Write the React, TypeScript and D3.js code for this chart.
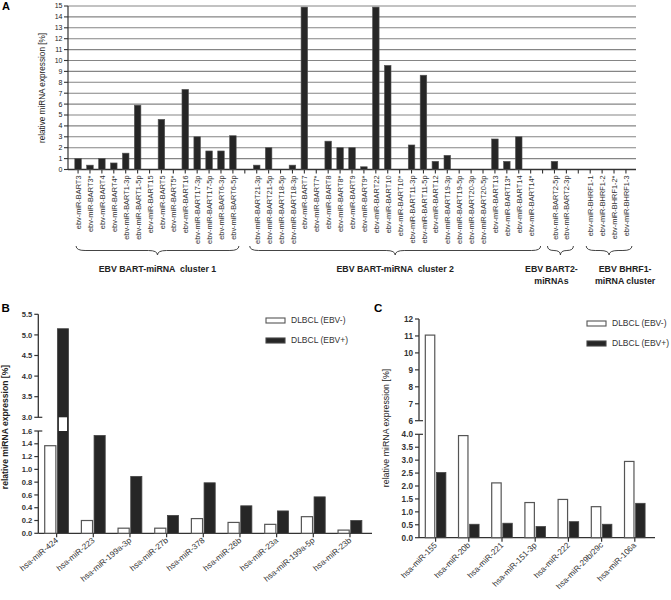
import React, { useRef, useEffect } from "react";
import * as d3 from "d3";

// Panel A: EBV miRNA clusters
const cluster1 = [
  "ebv-miR-BART3", "ebv-miR-BART3*", "ebv-miR-BART4", "ebv-miR-BART4*", "ebv-miR-BART1-3p",
  "ebv-miR-BART1-5p", "ebv-miR-BART15", "ebv-miR-BART5", "ebv-miR-BART5*", "ebv-miR-BART16",
  "ebv-miR-BART17-3p", "ebv-miR-BART17-5p", "ebv-miR-BART6-3p", "ebv-miR-BART6-5p"
];
const cluster1Values = [1.0, 0.4, 1.0, 0.6, 1.5, 5.9, 0, 4.6, 0, 7.35, 3.0, 1.7, 1.7, 3.1];

const cluster2 = [
  "ebv-miR-BART21-3p", "ebv-miR-BART21-5p", "ebv-miR-BART18-5p", "ebv-miR-BART18-3p", "ebv-miR-BART7",
  "ebv-miR-BART7*", "ebv-miR-BART8", "ebv-miR-BART8*", "ebv-miR-BART9", "ebv-miR-BART9*",
  "ebv-miR-BART22", "ebv-miR-BART10", "ebv-miR-BART10*", "ebv-miR-BART11-3p", "ebv-miR-BART11-5p",
  "ebv-miR-BART12", "ebv-miR-BART19-3p", "ebv-miR-BART19-5p", "ebv-miR-BART20-3p", "ebv-miR-BART20-5p",
  "ebv-miR-BART13", "ebv-miR-BART13*", "ebv-miR-BART14", "ebv-miR-BART14*"
];
const cluster2Values = [
  0.4, 2.0, 0, 0.4, 14.9, 0, 2.6, 2.0, 2.0, 0.25,
  14.9, 9.55, 0, 2.25, 8.65, 0.75, 1.3, 0, 0, 0,
  2.8, 0.75, 3.0, 0
];

const bart2 = ["ebv-miR-BART2-5p", "ebv-miR-BART2-3p"];
const bart2Values = [0.75, 0];

const bhrf1 = ["ebv-miR-BHRF1-1", "ebv-miR-BHRF1-2", "ebv-miR-BHRF1-2*", "ebv-miR-BHRF1-3"];
const bhrf1Values = [0, 0, 0, 0];

const aTicks = [0, 1, 2, 3, 4, 5, 6, 7, 8, 9, 10, 11, 12, 13, 14, 15];

// Panel B
const bCategories = [
  "hsa-miR-424", "hsa-miR-223", "hsa-miR-199a-3p", "hsa-miR-27b", "hsa-miR-378",
  "hsa-miR-26b", "hsa-miR-23a", "hsa-miR-199a-5p", "hsa-miR-23b"
];
const bEbvNeg = [1.37, 0.2, 0.08, 0.08, 0.23, 0.17, 0.14, 0.26, 0.05];
const bEbvPos = [5.15, 1.53, 0.89, 0.28, 0.79, 0.43, 0.35, 0.57, 0.2];
const bLowerTicks = [0, 0.2, 0.4, 0.6, 0.8, 1.0, 1.2, 1.4, 1.6];
const bUpperTicks = [3.0, 3.5, 4.0, 4.5, 5.0, 5.5];

// Panel C
const cCategories = [
  "hsa-miR-155", "hsa-miR-20b", "hsa-miR-221", "hsa-miR-151-3p",
  "hsa-miR-222", "hsa-miR-29b/29c", "hsa-miR-106a"
];
const cEbvNeg = [11.05, 3.95, 2.12, 1.36, 1.48, 1.2, 2.95];
const cEbvPos = [2.52, 0.52, 0.56, 0.43, 0.62, 0.52, 1.33];
const cLowerTicks = [0, 0.5, 1.0, 1.5, 2.0, 2.5, 3.0, 3.5, 4.0];
const cUpperTicks = [6, 7, 8, 9, 10, 11, 12];

const legendLabels = ["DLBCL (EBV-)", "DLBCL (EBV+)"];

const FONT = "'Liberation Sans', Arial, Helvetica, sans-serif";
const BAR = "#262626";
const AXIS = "#333";

function bracePath(x1: number, x2: number, y: number, h: number) {
  const xm = (x1 + x2) / 2;
  const q = h / 2;
  const r = Math.min(q * 2, (x2 - x1) / 4);
  return `M${x1},${y} Q${x1},${y + q} ${x1 + r},${y + q} L${xm - r},${y + q} Q${xm},${y + q} ${xm},${y + h} ` +
    `Q${xm},${y + q} ${xm + r},${y + q} L${x2 - r},${y + q} Q${x2},${y + q} ${x2},${y}`;
}

function drawBroken(svg: any, opt: any) {
  const { cats, neg, pos, lowerTicks, upperTicks, left, right, lineEnd,
    yLow, yUp, fmtLow, fmtUp, pad, inner, titleX, titleY, titleWeight, titleSize,
    tickSize, tickWeight, legendX, legendY, labelAngle, letter, letterX } = opt;

  const x0 = d3.scaleBand().domain(cats).range([left, right]).paddingInner(pad).paddingOuter(pad / 2);
  const x1 = d3.scaleBand().domain(["neg", "pos"]).range([0, x0.bandwidth()]).paddingInner(inner);
  const lowMax = lowerTicks[lowerTicks.length - 1];
  const upMin = upperTicks[0];
  const yl = d3.scaleLinear().domain([0, lowMax]).range(yLow);
  const yu = d3.scaleLinear().domain([upMin, upperTicks[upperTicks.length - 1]]).range(yUp);
  const yv = (v: number) => (v <= lowMax ? yl(v) : yu(v));

  const g = svg.append("g");

  // axis segments
  g.append("line").attr("x1", left).attr("x2", left).attr("y1", yl(0)).attr("y2", yl(lowMax))
    .attr("stroke", AXIS).attr("stroke-width", 1.3);
  g.append("line").attr("x1", left).attr("x2", left).attr("y1", yu(upMin)).attr("y2", yu(upperTicks[upperTicks.length - 1]))
    .attr("stroke", AXIS).attr("stroke-width", 1.3);
  g.append("line").attr("x1", left).attr("x2", lineEnd).attr("y1", yl(0)).attr("y2", yl(0))
    .attr("stroke", AXIS).attr("stroke-width", 1.3);

  const ticks = [
    ...lowerTicks.map((t: number) => ({ y: yl(t), label: fmtLow(t), brk: t === lowMax })),
    ...upperTicks.map((t: number) => ({ y: yu(t), label: fmtUp(t), brk: t === upMin }))
  ];
  g.selectAll(".yt").data(ticks).enter().append("line")
    .attr("x1", left - 4).attr("x2", (d: any) => (d.brk ? left + 4 : left))
    .attr("y1", (d: any) => d.y).attr("y2", (d: any) => d.y)
    .attr("stroke", AXIS).attr("stroke-width", 1.2);
  g.selectAll(".yl").data(ticks).enter().append("text")
    .attr("x", left - 6).attr("y", (d: any) => d.y).attr("dy", "0.35em")
    .attr("text-anchor", "end")
    .style("font-family", FONT).style("font-size", tickSize).style("font-weight", tickWeight)
    .style("fill", "#333")
    .text((d: any) => d.label);

  // x ticks
  g.selectAll(".xt").data(cats).enter().append("line")
    .attr("x1", (d: string) => x0(d)! + x0.bandwidth() / 2).attr("x2", (d: string) => x0(d)! + x0.bandwidth() / 2)
    .attr("y1", yl(0)).attr("y2", yl(0) + 4)
    .attr("stroke", AXIS).attr("stroke-width", 1.2);

  // bars
  const rows = cats.map((c: string, i: number) => ({ c, neg: neg[i], pos: pos[i] }));
  g.selectAll(".bn").data(rows).enter().append("rect")
    .attr("x", (d: any) => x0(d.c)! + x1("neg")!)
    .attr("y", (d: any) => yv(d.neg))
    .attr("width", x1.bandwidth())
    .attr("height", (d: any) => yl(0) - yv(d.neg))
    .attr("fill", "#fff").attr("stroke", "#555").attr("stroke-width", 1.2);
  g.selectAll(".bp").data(rows).enter().append("rect")
    .attr("x", (d: any) => x0(d.c)! + x1("pos")!)
    .attr("y", (d: any) => yv(d.pos))
    .attr("width", x1.bandwidth())
    .attr("height", (d: any) => yl(0) - yv(d.pos))
    .attr("fill", BAR).attr("stroke", "#444").attr("stroke-width", 0.8);
  // white window where a black bar crosses the break
  g.selectAll(".bw").data(rows.filter((d: any) => d.pos > lowMax)).enter().append("rect")
    .attr("x", (d: any) => x0(d.c)! + x1("pos")! + 1.5)
    .attr("y", yu(upMin))
    .attr("width", x1.bandwidth() - 3)
    .attr("height", yl(lowMax) - yu(upMin))
    .attr("fill", "#fff");

  // x labels
  g.selectAll(".xl").data(cats).enter().append("text")
    .attr("transform", (d: string) => `translate(${x0(d)! + x0.bandwidth() / 2 + 2},${yl(0) + 8}) rotate(${labelAngle})`)
    .attr("text-anchor", "end")
    .style("font-family", FONT).style("font-size", 8.2).style("fill", "#333")
    .text((d: string) => d);

  // y title
  g.append("text")
    .attr("transform", `translate(${titleX},${titleY}) rotate(-90)`)
    .attr("text-anchor", "middle")
    .style("font-family", FONT).style("font-size", titleSize).style("font-weight", titleWeight)
    .style("fill", "#222")
    .text("relative miRNA expression [%]");

  // legend
  legendLabels.forEach((lab, i) => {
    const ly = legendY + i * 20;
    g.append("rect").attr("x", legendX).attr("y", ly - 2.5).attr("width", 19).attr("height", 5)
      .attr("fill", i === 0 ? "#fff" : BAR).attr("stroke", i === 0 ? "#555" : "#444").attr("stroke-width", 1.1);
    g.append("text").attr("x", legendX + 25).attr("y", ly).attr("dy", "0.35em")
      .style("font-family", FONT).style("font-size", 8.5).style("fill", "#333")
      .text(lab);
  });

  g.append("text").attr("x", letterX).attr("y", 311.5)
    .style("font-family", FONT).style("font-size", 11.5).style("font-weight", "bold")
    .text(letter);
}

export default function App() {
  const ref = useRef<SVGSVGElement>(null);

  useEffect(() => {
    document.body.style.margin = "0";
    const svg = d3.select(ref.current);
    svg.selectAll("*").remove();

    // ---------- Panel A ----------
    const groups = [
      { labels: cluster1, values: cluster1Values, title: ["EBV BART-miRNA  cluster 1"], lo: -2, hi: 6, dx: 0 },
      { labels: cluster2, values: cluster2Values, title: ["EBV BART-miRNA  cluster 2"], lo: -7, hi: 10, dx: 0 },
      { labels: bart2, values: bart2Values, title: ["EBV BART2-", "miRNAs"], lo: -7, hi: 7, dx: -9 },
      { labels: bhrf1, values: bhrf1Values, title: ["EBV BHRF1-", "miRNA cluster"], lo: -4, hi: 6, dx: 16 }
    ];
    const domain: string[] = [];
    groups.forEach((gr, i) => {
      if (i > 0) domain.push("gap" + i);
      domain.push(...gr.labels);
    });
    const aData = groups.flatMap(gr => gr.labels.map((l, i) => ({ label: l, value: gr.values[i] })));

    const ax = d3.scaleBand().domain(domain).range([68, 636]).paddingInner(0.45).paddingOuter(0.57);
    const ay = d3.scaleLinear().domain([0, 15]).range([169.5, 6]);
    const cx = (d: string) => ax(d)! + ax.bandwidth() / 2;

    const a = svg.append("g");
    a.selectAll(".grid").data(aTicks.filter(t => t > 0)).enter().append("line")
      .attr("x1", 68).attr("x2", 636).attr("y1", d => ay(d)).attr("y2", d => ay(d))
      .attr("stroke", "#858585").attr("stroke-width", 1.1);
    a.append("line").attr("x1", 68).attr("x2", 68).attr("y1", ay(0)).attr("y2", ay(15))
      .attr("stroke", AXIS).attr("stroke-width", 1.2);
    a.append("line").attr("x1", 68).attr("x2", 636).attr("y1", ay(0)).attr("y2", ay(0))
      .attr("stroke", AXIS).attr("stroke-width", 1.3);
    a.selectAll(".yt").data(aTicks).enter().append("line")
      .attr("x1", 64).attr("x2", 68).attr("y1", d => ay(d)).attr("y2", d => ay(d))
      .attr("stroke", AXIS).attr("stroke-width", 1.1);
    a.selectAll(".yl").data(aTicks).enter().append("text")
      .attr("x", 62.5).attr("y", d => ay(d)).attr("dy", "0.35em").attr("text-anchor", "end")
      .style("font-family", FONT).style("font-size", 7).style("fill", "#222")
      .text(d => d);
    a.selectAll(".xt").data(domain).enter().append("line")
      .attr("x1", d => cx(d)).attr("x2", d => cx(d)).attr("y1", ay(0)).attr("y2", ay(0) + 4)
      .attr("stroke", AXIS).attr("stroke-width", 1.1);
    a.selectAll(".bar").data(aData.filter(d => d.value > 0)).enter().append("rect")
      .attr("x", d => ax(d.label)!).attr("y", d => ay(d.value))
      .attr("width", ax.bandwidth()).attr("height", d => ay(0) - ay(d.value))
      .attr("fill", BAR).attr("stroke", "#555").attr("stroke-width", 0.6);
    a.selectAll(".xl").data(aData).enter().append("text")
      .attr("transform", d => `translate(${cx(d.label) + 0.5},175.5) rotate(-90)`)
      .attr("dy", "0.35em").attr("text-anchor", "end")
      .style("font-family", FONT).style("font-size", 7.4).style("fill", "#333")
      .text(d => d.label);
    a.append("text")
      .attr("transform", "translate(45,88) rotate(-90)").attr("text-anchor", "middle")
      .style("font-family", FONT).style("font-size", 8.2).style("fill", "#222")
      .text("relative miRNA expression [%]");
    a.append("text").attr("x", 2).attr("y", 10)
      .style("font-family", FONT).style("font-size", 11).style("font-weight", "bold")
      .text("A");

    groups.forEach(gr => {
      const x1 = cx(gr.labels[0]) + gr.lo;
      const x2 = cx(gr.labels[gr.labels.length - 1]) + gr.hi;
      a.append("path").attr("d", bracePath(x1, x2, 246, 9))
        .attr("fill", "none").attr("stroke", "#444").attr("stroke-width", 1);
      gr.title.forEach((t, i) => {
        a.append("text").attr("x", (x1 + x2) / 2 + gr.dx).attr("y", 272 + i * 12)
          .attr("text-anchor", "middle")
          .style("font-family", FONT).style("font-size", 8.8).style("font-weight", "bold")
          .style("white-space", "pre").style("fill", "#222")
          .text(t);
      });
    });

    // ---------- Panel B ----------
    drawBroken(svg, {
      cats: bCategories, neg: bEbvNeg, pos: bEbvPos,
      lowerTicks: bLowerTicks, upperTicks: bUpperTicks,
      left: 38.3, right: 368.3, lineEnd: 372,
      yLow: [533.3, 431], yUp: [417.3, 314.3],
      fmtLow: d3.format(".1f"), fmtUp: d3.format(".1f"),
      pad: 0.35, inner: 0.12,
      titleX: 8, titleY: 427, titleWeight: "bold", titleSize: 8.6,
      tickSize: 7.6, tickWeight: "bold",
      legendX: 266, legendY: 320.5, labelAngle: -40,
      letter: "B", letterX: 1.5
    });

    // ---------- Panel C ----------
    drawBroken(svg, {
      cats: cCategories, neg: cEbvNeg, pos: cEbvPos,
      lowerTicks: cLowerTicks, upperTicks: cUpperTicks,
      left: 419, right: 651.4, lineEnd: 655,
      yLow: [537.7, 434.3], yUp: [420.7, 319],
      fmtLow: d3.format(".1f"), fmtUp: d3.format("d"),
      pad: 0.38, inner: 0.15,
      titleX: 389, titleY: 428, titleWeight: "normal", titleSize: 8.8,
      tickSize: 8.2, tickWeight: "bold",
      legendX: 587, legendY: 323.5, labelAngle: -45,
      letter: "C", letterX: 374
    });
  }, []);

  return (
    <svg ref={ref} width={671} height={600} style={{ display: "block", background: "#fff" }}></svg>
  );
}
